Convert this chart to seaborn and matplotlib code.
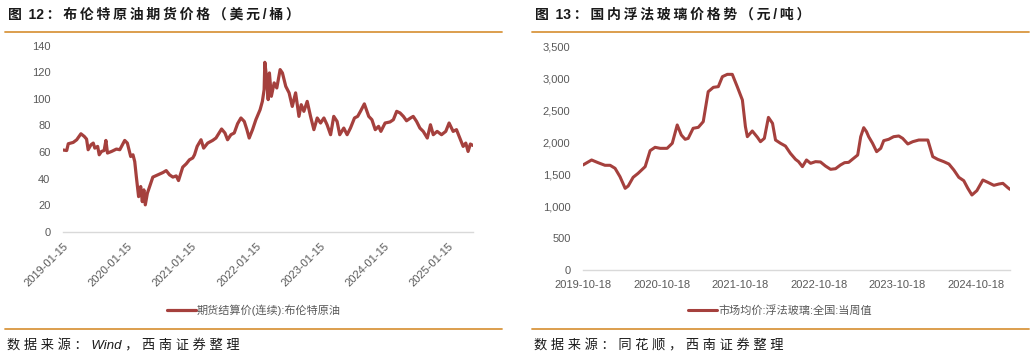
import pandas as pd
import matplotlib
matplotlib.use("Agg")
import matplotlib.pyplot as plt
import matplotlib.ticker as mticker
from matplotlib.lines import Line2D
import seaborn as sns

sns.set_style("white")
plt.rcParams["font.family"] = ["Liberation Sans", "Noto Sans CJK SC"]

# ─── Data ────────────────────────────────────────────────────────────────────

brent_dates = [
    "2019-01-15", "2019-02-05", "2019-02-14", "2019-03-14", "2019-04-03", "2019-04-27",
    "2019-05-16", "2019-05-29", "2019-06-07", "2019-06-23", "2019-07-06", "2019-07-15",
    "2019-07-31", "2019-08-09", "2019-08-22", "2019-09-06", "2019-09-16", "2019-09-25",
    "2019-10-18", "2019-11-15", "2019-12-04", "2020-01-01", "2020-01-16", "2020-02-04",
    "2020-02-17", "2020-02-27", "2020-03-07", "2020-03-20", "2020-04-01", "2020-04-10",
    "2020-04-19", "2020-04-27", "2020-05-09", "2020-05-22", "2020-06-09", "2020-07-08",
    "2020-08-05", "2020-08-24", "2020-09-12", "2020-10-01", "2020-10-20", "2020-11-02",
    "2020-11-26", "2020-12-16", "2021-01-03", "2021-01-22", "2021-02-01", "2021-02-16",
    "2021-03-10", "2021-03-25", "2021-04-17", "2021-05-15", "2021-06-03", "2021-07-05",
    "2021-07-24", "2021-08-08", "2021-08-27", "2021-09-15", "2021-10-04", "2021-10-23",
    "2021-11-11", "2021-11-26", "2021-12-09", "2021-12-28", "2022-01-16", "2022-02-09",
    "2022-02-22", "2022-03-04", "2022-03-08", "2022-03-19", "2022-03-27", "2022-04-03",
    "2022-04-14", "2022-04-30", "2022-05-15", "2022-06-03", "2022-06-16", "2022-07-05",
    "2022-07-24", "2022-08-11", "2022-08-30", "2022-09-18", "2022-10-01", "2022-10-16",
    "2022-11-04", "2022-11-23", "2022-12-12", "2022-12-31", "2023-01-19", "2023-02-07",
    "2023-02-25", "2023-03-17", "2023-04-04", "2023-04-23", "2023-05-08", "2023-05-31",
    "2023-06-19", "2023-07-08", "2023-07-31", "2023-08-18", "2023-09-03", "2023-09-25",
    "2023-10-10", "2023-10-20", "2023-11-07", "2023-11-26", "2023-12-15", "2023-12-28",
    "2024-01-21", "2024-02-18", "2024-03-08", "2024-03-27", "2024-04-15", "2024-05-04",
    "2024-05-22", "2024-06-14", "2024-06-29", "2024-07-18", "2024-08-06", "2024-08-25",
    "2024-09-17", "2024-10-05", "2024-10-21", "2024-11-12", "2024-12-07", "2024-12-31",
    "2025-01-19", "2025-02-11", "2025-03-02", "2025-03-21", "2025-04-09", "2025-04-24",
    "2025-05-07", "2025-05-20", "2025-06-04",
]
brent_price = [
    61.5, 61.1, 66.2, 67.2, 69.2, 73.7,
    71.7, 69.7, 61.7, 65.4, 66.7, 62.9,
    64.2, 57.9, 60.4, 61.1, 68.7, 59.2,
    60.4, 62.2, 61.7, 68.7, 66.7, 56.6,
    57.9, 52.8, 41.5, 26.4, 34.0, 22.6,
    31.5, 20.2, 29.0, 34.0, 41.1, 42.8,
    44.5, 46.0, 42.8, 41.1, 42.0, 38.5,
    48.6, 51.1, 54.1, 55.5, 57.9, 64.2,
    69.2, 62.9, 66.7, 68.7, 70.5, 77.3,
    74.3, 69.2, 73.0, 74.3, 81.3, 85.6,
    83.0, 76.8, 70.5, 76.8, 84.3, 91.8,
    98.1, 106.9, 127.5, 114.5, 99.4, 119.5,
    101.9, 112.0, 108.2, 122.0, 119.5, 109.4,
    104.5, 94.3, 104.5, 86.8, 95.6, 90.6,
    98.1, 86.8, 76.8, 85.6, 81.8, 85.6,
    80.5, 73.0, 86.8, 83.0, 73.0, 78.0,
    73.0, 78.0, 85.6, 86.8, 90.6, 96.2,
    90.6, 86.8, 84.3, 76.8, 79.3, 75.5,
    81.8, 82.6, 84.3, 90.6, 89.4, 86.8,
    83.5, 85.6, 86.8, 83.0, 78.0, 75.5,
    70.5, 80.5, 73.0, 75.5, 73.0, 75.5,
    81.8, 75.5, 76.8, 70.5, 64.2, 66.7,
    60.4, 66.0, 64.9,
]
brent_ticks = ["2019-01-15", "2020-01-15", "2021-01-15", "2022-01-15",
               "2023-01-15", "2024-01-15", "2025-01-15"]

glass_dates = [
    "2019-10-18", "2019-11-27", "2019-12-27", "2020-01-28", "2020-02-21", "2020-03-15",
    "2020-04-07", "2020-05-01", "2020-05-15", "2020-06-07", "2020-06-30", "2020-08-02",
    "2020-08-25", "2020-09-17", "2020-10-11", "2020-11-12", "2020-12-06", "2020-12-29",
    "2021-01-17", "2021-02-04", "2021-02-18", "2021-03-13", "2021-04-06", "2021-04-29",
    "2021-05-22", "2021-06-15", "2021-07-08", "2021-07-27", "2021-08-19", "2021-09-11",
    "2021-10-04", "2021-10-28", "2021-11-11", "2021-11-20", "2021-12-13", "2022-01-06",
    "2022-01-20", "2022-02-07", "2022-02-26", "2022-03-17", "2022-03-31", "2022-04-23",
    "2022-05-16", "2022-06-08", "2022-07-02", "2022-07-16", "2022-08-03", "2022-08-22",
    "2022-09-10", "2022-10-03", "2022-10-26", "2022-11-18", "2022-12-12", "2023-01-04",
    "2023-01-27", "2023-02-15", "2023-03-06", "2023-03-29", "2023-04-17", "2023-05-01",
    "2023-05-15", "2023-05-28", "2023-06-07", "2023-06-25", "2023-07-14", "2023-08-02",
    "2023-08-16", "2023-09-08", "2023-10-01", "2023-10-25", "2023-11-12", "2023-12-06",
    "2023-12-29", "2024-01-26", "2024-03-08", "2024-03-31", "2024-04-23", "2024-05-21",
    "2024-06-14", "2024-07-07", "2024-07-30", "2024-08-22", "2024-09-10", "2024-09-29",
    "2024-10-22", "2024-11-19", "2024-12-12", "2025-01-09", "2025-02-02", "2025-02-20",
    "2025-03-15", "2025-03-25",
]
glass_price = [
    1641, 1719, 1677, 1636, 1636, 1589,
    1458, 1276, 1312, 1448, 1510, 1615,
    1865, 1917, 1901, 1901, 1980, 2266,
    2109, 2042, 2057, 2214, 2229, 2318,
    2786, 2854, 2865, 3021, 3057, 3057,
    2865, 2656, 2240, 2083, 2172, 2073,
    2005, 2057, 2385, 2292, 2031, 1980,
    1937, 1823, 1729, 1693, 1615, 1719,
    1667, 1693, 1688, 1625, 1573, 1583,
    1641, 1677, 1682, 1745, 1797, 2083,
    2224, 2161, 2083, 1980, 1849, 1901,
    2021, 2042, 2083, 2094, 2057, 1969,
    2005, 2031, 2031, 1771, 1729, 1693,
    1656, 1562, 1448, 1396, 1276, 1172,
    1240, 1406, 1370, 1323, 1344, 1354,
    1286, 1260,
]
glass_ticks = ["2019-10-18", "2020-10-18", "2021-10-18", "2022-10-18",
               "2023-10-18", "2024-10-18"]

RED = "#a5403d"
ORANGE = "#d9963f"
GRAY = "#595959"
AXIS = "#d9d9d9"
THIN = "\u2009"


def spaced(text, sep):
    # letter-spacing for the CJK runs, Latin words stay together
    out = ""
    for i, ch in enumerate(text):
        out += ch
        if i < len(text) - 1 and not (ch.isascii() and text[i + 1].isascii()):
            out += sep
    return out


brent = pd.DataFrame({"date": pd.to_datetime(brent_dates), "price": brent_price})
glass = pd.DataFrame({"date": pd.to_datetime(glass_dates), "price": glass_price})

W, H = 1034, 360
fig = plt.figure(figsize=(W / 100, H / 100), dpi=100)

ax1 = fig.add_axes([63 / W, 1 - 231.7 / H, 410 / W, 186 / H])
ax2 = fig.add_axes([583 / W, 1 - 270 / H, 427 / W, 224 / H])

sns.lineplot(data=brent, x="date", y="price", ax=ax1, color=RED, lw=2.3,
             label="期货结算价(连续):布伦特原油")
sns.lineplot(data=glass, x="date", y="price", ax=ax2, color=RED, lw=2.2,
             label="市场均价:浮法玻璃:全国:当周值")

ax1.set_ylim(0, 140)
ax1.set_yticks(range(0, 141, 20))
ax1.set_xlim(brent["date"].min(), brent["date"].max())
ax1.set_xticks(pd.to_datetime(brent_ticks))
ax1.set_xticklabels(brent_ticks, rotation=45, ha="right", rotation_mode="anchor")

ax2.set_ylim(0, 3500)
ax2.set_yticks(range(0, 3501, 500))
ax2.yaxis.set_major_formatter(mticker.FuncFormatter(lambda v, _: f"{v:,.0f}"))
ax2.set_xlim(glass["date"].min(), glass["date"].max())
ax2.set_xticks(pd.to_datetime(glass_ticks))
ax2.set_xticklabels(glass_ticks)

for ax in (ax1, ax2):
    ax.set_xlabel("")
    ax.set_ylabel("")
    for side in ("top", "right", "left"):
        ax.spines[side].set_visible(False)
    ax.spines["bottom"].set_color(AXIS)
    ax.spines["bottom"].set_linewidth(1)
    ax.tick_params(axis="y", length=0, pad=9, labelsize=8, labelcolor=GRAY)
    ax.tick_params(axis="x", length=3, width=1, color=AXIS, pad=4,
                   labelsize=8, labelcolor=GRAY)
    ax.get_legend().remove()

# legends below each chart
for ax, cx in ((ax1, 254), (ax2, 780)):
    handles, labels = ax.get_legend_handles_labels()
    fig.legend(handles, labels, loc="center", bbox_to_anchor=(cx / W, 1 - 310 / H),
               frameon=False, fontsize=8, labelcolor=GRAY, handlelength=2.6,
               handletextpad=0.1)

# titles, rules and sources
fig.text(8 / W, 1 - 15 / H, spaced("图 12：布伦特原油期货价格（美元/桶）", THIN),
         fontsize=10, fontweight="bold", va="center", ha="left", color="#1a1a1a")
fig.text(535 / W, 1 - 15 / H, spaced("图 13：国内浮法玻璃价格势（元/吨）", THIN),
         fontsize=10, fontweight="bold", va="center", ha="left", color="#1a1a1a")

for x0, x1 in ((5, 502), (532, 1029)):
    for yy in (31.5, 328.5):
        fig.add_artist(Line2D([x0 / W, x1 / W], [1 - yy / H, 1 - yy / H],
                              color=ORANGE, lw=1.3, transform=fig.transFigure))

fig.text(7 / W, 1 - 346 / H, spaced("数据来源：Wind，西南证券整理", " "), fontsize=9.5,
         style="italic", va="center", ha="left", color="#1a1a1a")
fig.text(534 / W, 1 - 346 / H, spaced("数据来源：同花顺，西南证券整理", " "), fontsize=9.5,
         style="italic", va="center", ha="left", color="#1a1a1a")

fig.savefig("out.png", dpi=100)
